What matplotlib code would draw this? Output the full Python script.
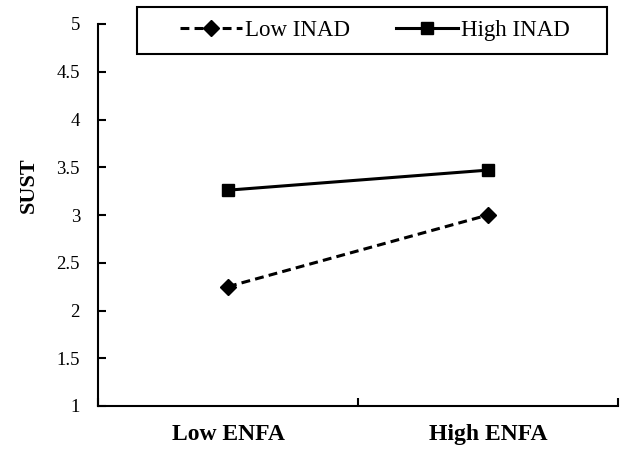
import matplotlib.pyplot as plt
from matplotlib.patches import Rectangle

# data
groups = ['Low ENFA', 'High ENFA']
low_inad = [2.25, 3.0]
high_inad = [3.26, 3.47]
yticks = [1, 1.5, 2, 2.5, 3, 3.5, 4, 4.5, 5]
ytick_labels = ['1', '1.5', '2', '2.5', '3', '3.5', '4', '4.5', '5']

plt.rcParams['font.family'] = ['Liberation Serif', 'DejaVu Serif']

fig = plt.figure(figsize=(6.21, 4.49), dpi=100)
ax = fig.add_axes([98/621, 1-406/449, 520/621, 382/449])

xpos = [i + 0.5 for i in range(len(groups))]
ax.plot(xpos, low_inad, color='black', linestyle=(0, (2.9, 1.7)), linewidth=2.2,
        marker='D', markersize=8, label='Low INAD')
ax.plot(xpos, high_inad, color='black', linestyle='-', linewidth=2.2,
        marker='s', markersize=9, label='High INAD')

ax.set_xlim(0, len(groups))
ax.set_ylim(1, 5)
ax.set_yticks(yticks)
ax.set_yticklabels(ytick_labels, fontsize=13.5)

# category boundary ticks, labels at the centres
ax.set_xticks(range(len(groups) + 1))
ax.set_xticklabels([])
ax.set_xticks(xpos, minor=True)
ax.set_xticklabels(groups, minor=True, fontsize=17, fontweight='bold')
ax.tick_params(axis='x', which='minor', length=0, pad=13)
ax.tick_params(axis='both', which='major', direction='in', length=5.5, width=1.5)
ax.tick_params(axis='y', pad=13)

for s in ['top', 'right']:
    ax.spines[s].set_visible(False)
for s in ['left', 'bottom']:
    ax.spines[s].set_linewidth(1.5)

ax.set_ylabel('SUST', fontsize=16, fontweight='bold')
ax.yaxis.set_label_coords(-0.114, 0.578)

# legend box drawn separately so the entries keep their inset
fig.patches.append(Rectangle((137/621, 1-54/449), 470/621, 47/449,
                             transform=fig.transFigure, fill=False,
                             edgecolor='black', linewidth=1.5))
leg = fig.legend(loc='center left', ncol=2, fontsize=16.5,
                 bbox_to_anchor=(180/621, 1-30.5/449),
                 bbox_transform=fig.transFigure, frameon=False,
                 handlelength=2.7, handletextpad=0.15, columnspacing=2.0,
                 borderpad=0, borderaxespad=0)

fig.savefig('out.png', dpi=100)
